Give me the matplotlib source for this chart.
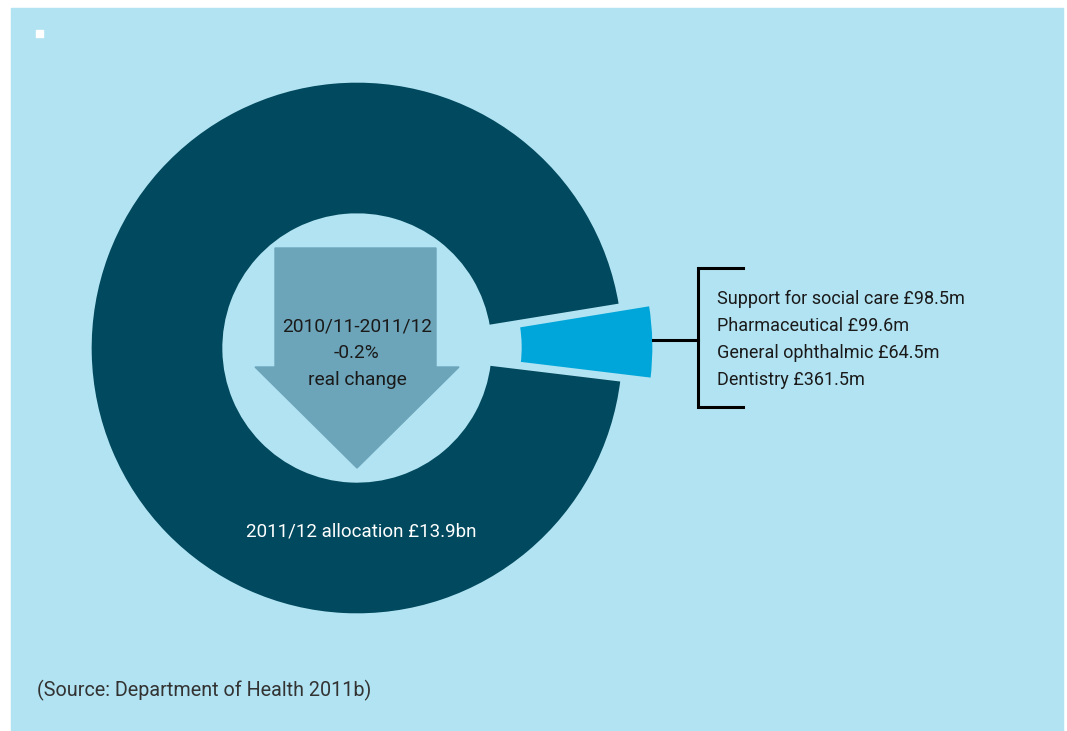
import matplotlib.pyplot as plt
from matplotlib.patches import Rectangle, Polygon

# figures in £ million unless stated
services = ["Support for social care", "Pharmaceutical", "General ophthalmic", "Dentistry"]
service_spend_m = [98.5, 99.6, 64.5, 361.5]
allocation_bn = 13.9
period = "2010/11-2011/12"
real_change_pct = -0.2
source = "(Source: Department of Health 2011b)"

W, H = 1067, 731
bg = "#b2e3f2"
dark = "#00495e"
bright = "#00a6da"
arrow_col = "#6ca5ba"
ink = "#1a1a1a"

plt.rcParams['font.family'] = ['Roboto', 'DejaVu Sans']

fig = plt.figure(figsize=(W / 100, H / 100), dpi=100)
ax = fig.add_axes([0, 0, 1, 1])
ax.set_xlim(0, W)
ax.set_ylim(0, H)
ax.set_aspect('equal')
ax.axis('off')

# panel background and the small marker in the corner
ax.add_patch(Rectangle((11, 0), 1052, H - 8, color=bg, zorder=0))
ax.add_patch(Rectangle((36, H - 37), 7, 7, color="white", zorder=1))

# donut: services slice pulled out to the right
small = sum(service_spend_m)
rest = allocation_bn * 1000 - small
cx, cy = 357, H - 348
ax.pie([small, rest], colors=[bright, dark], explode=[30, 0],
       startangle=-6.9, center=(cx, cy), radius=267, frame=True,
       wedgeprops=dict(width=134, edgecolor=bg, linewidth=2.4))
ax.set_xlim(0, W)
ax.set_ylim(0, H)
ax.axis('off')

# down arrow in the hole
arrow = [(275, 248), (436, 248), (436, 367), (459, 367), (357, 468),
         (255, 367), (275, 367)]
ax.add_patch(Polygon([(x, H - y) for x, y in arrow], closed=True,
                     color=arrow_col, zorder=3))
ax.text(357, H - 353.5, f"{period}\n{real_change_pct}%\nreal change",
        ha='center', va='center', fontsize=13.8, color=ink,
        linespacing=1.62, zorder=4)

ax.text(361, H - 532, f"{allocation_bn:g}".join(["2011/12 allocation £", "bn"]),
        ha='center', va='center', fontsize=13.5, color="white", zorder=4)

# bracket joining the pulled-out slice to its breakdown
lw = 2.2
ax.plot([653, 698], [H - 340, H - 340], color="black", lw=lw, zorder=4)
ax.plot([743, 698, 698, 743], [H - 268, H - 268, H - 407, H - 407],
        color="black", lw=lw, solid_joinstyle='miter', zorder=4)
lines = [f"{name} £{v}m" for name, v in zip(services, service_spend_m)]
ax.text(717, H - 339.5, "\n".join(lines), ha='left', va='center',
        fontsize=13, color=ink, linespacing=1.66, zorder=4)

ax.text(37, H - 690, source, ha='left', va='center', fontsize=14.2,
        color="#333333", zorder=4)

fig.savefig("out.png", dpi=100, facecolor="white")
